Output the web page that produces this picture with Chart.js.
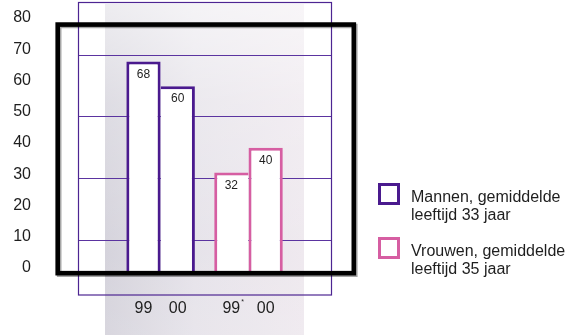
<!DOCTYPE html>
<html>
<head>
<meta charset="utf-8">
<script src="https://cdn.jsdelivr.net/npm/chart.js@4.4.1/dist/chart.umd.min.js"></script>
<style>
  html, body { margin: 0; padding: 0; background: #ffffff; }
  #chart { display: block; }
</style>
</head>
<body>
<canvas id="chart" width="567" height="335"></canvas>
<script>
// Groups (one per gender) and the two survey years shown side by side in each group
const groups = ['Mannen', 'Vrouwen'];
const years = ['99', '00'];
const values99 = [68, 32];
const values00 = [60, 40];
// Year labels printed under each bar, per group
const barYearLabels = [['99', '00'], ['99*', '00']];
// Left axis labels and horizontal guide lines
const yTickValues = [0, 10, 20, 30, 40, 50, 60, 70, 80];
const gridValues = [10, 30, 50, 70];
// Legend entries, one per gender
const legendLines = [
  ['Mannen, gemiddelde', 'leeftijd 33 jaar'],
  ['Vrouwen, gemiddelde', 'leeftijd 35 jaar']
];

const genderColors = ['#4a1a8e', '#d65ea2'];
const FONT = '"Liberation Sans", Arial, Helvetica, sans-serif';
const BORDER = 3;

// The taller bar of each pair owns the shared edge, so it is drawn only once
function widths99(ctx) {
  const i = ctx.dataIndex;
  return { top: BORDER, left: BORDER, right: values99[i] >= values00[i] ? BORDER : 0, bottom: 0 };
}
function widths00(ctx) {
  const i = ctx.dataIndex;
  return { top: BORDER, right: BORDER, left: values00[i] > values99[i] ? BORDER : 0, bottom: 0 };
}

const decor = {
  id: 'decor',
  beforeDraw(chart) {
    const { ctx, chartArea: a, height } = chart;
    const x0 = a.left + 27, x1 = a.right - 28, y0 = a.top + 1, y1 = height;
    ctx.save();
    const h = ctx.createLinearGradient(x0, 0, x1, 0);
    h.addColorStop(0, '#d3d1da');
    h.addColorStop(0.45, '#e5e2e9');
    h.addColorStop(1, '#eee8ee');
    ctx.fillStyle = h;
    ctx.fillRect(x0, y0, x1 - x0, y1 - y0);
    const v = ctx.createLinearGradient(0, y0, 0, y1);
    v.addColorStop(0, 'rgba(255,255,255,0.6)');
    v.addColorStop(0.3, 'rgba(255,255,255,0.25)');
    v.addColorStop(0.75, 'rgba(255,255,255,0.05)');
    v.addColorStop(1, 'rgba(255,255,255,0.12)');
    ctx.fillStyle = v;
    ctx.fillRect(x0, y0, x1 - x0, y1 - y0);
    ctx.restore();
  },
  beforeDatasetsDraw(chart) {
    const { ctx, chartArea: a } = chart;
    ctx.save();
    ctx.strokeStyle = '#4d2592';
    ctx.lineWidth = 1.2;
    ctx.strokeRect(a.left + 0.5, a.top - 0.5, a.right - a.left - 1, a.bottom - a.top + 0.5);
    ctx.restore();
  },
  afterDatasetsDraw(chart) {
    const { ctx, chartArea: a } = chart;
    const yScale = chart.scales.y;
    ctx.save();
    // values inside the bars and year labels below them
    [values99, values00].forEach((vals, d) => {
      const meta = chart.getDatasetMeta(d);
      meta.data.forEach((bar, i) => {
        ctx.fillStyle = '#1e1e1e';
        ctx.textAlign = 'center';
        ctx.textBaseline = 'middle';
        ctx.font = '12px ' + FONT;
        ctx.fillText(String(vals[i]), bar.x, bar.y + 13);
        let label = barYearLabels[i][d];
        const star = label.endsWith('*');
        if (star) label = label.slice(0, -1);
        ctx.font = '16px ' + FONT;
        ctx.fillText(label, bar.x, 309);
        if (star) {
          const w = ctx.measureText(label).width;
          ctx.font = '7px ' + FONT;
          ctx.textAlign = 'left';
          ctx.fillText('*', bar.x + w / 2 + 1, 302);
        }
      });
    });

    // heavy black outline spanning the 0-80 range
    const top = yScale.getPixelForValue(80);
    const bottom = yScale.getPixelForValue(0) + 2.2;
    const left = a.left - 20.3, right = a.right + 21.8;
    ctx.shadowColor = 'rgba(0,0,0,0.35)';
    ctx.shadowOffsetX = 1.5;
    ctx.shadowOffsetY = 1.5;
    ctx.shadowBlur = 0.5;
    ctx.strokeStyle = '#000000';
    ctx.lineWidth = 4.6;
    ctx.strokeRect(left, top, right - left, bottom - top);
    ctx.shadowColor = 'transparent';

    // legend
    const lx = a.right + 46;
    legendLines.forEach((lines, k) => {
      const by = 183 + k * 54;
      ctx.strokeStyle = genderColors[k];
      ctx.lineWidth = 3;
      ctx.strokeRect(lx + 1.5, by + 1.5, 19, 19);
      ctx.fillStyle = '#1e1e1e';
      ctx.font = '16px ' + FONT;
      ctx.textAlign = 'left';
      ctx.textBaseline = 'middle';
      lines.forEach((t, j) => ctx.fillText(t, lx + 33, by + 15 + j * 18));
    });
    ctx.restore();
  }
};

new Chart(document.getElementById('chart'), {
  type: 'bar',
  data: {
    datasets: [
      {
        label: years[0],
        data: values99.map((v, i) => ({ x: i, y: v })),
        backgroundColor: '#ffffff',
        borderColor: genderColors,
        borderWidth: widths99
      },
      {
        label: years[1],
        data: values00.map((v, i) => ({ x: i, y: v })),
        backgroundColor: '#ffffff',
        borderColor: genderColors,
        borderWidth: widths00
      }
    ]
  },
  options: {
    responsive: false,
    devicePixelRatio: 1,
    animation: false,
    layout: { padding: { top: 3, bottom: 40, right: 235, left: 0 } },
    datasets: {
      bar: {
        categoryPercentage: 0.78,
        barPercentage: 1,
        inflateAmount: 0,
        borderSkipped: 'start'
      }
    },
    plugins: {
      legend: { display: false },
      tooltip: { enabled: false }
    },
    scales: {
      x: {
        type: 'linear',
        display: false,
        offset: false,
        min: -0.94,
        max: 1.95,
        afterBuildTicks: (s) => { s.ticks = groups.map((g, i) => ({ value: i })); }
      },
      y: {
        position: 'left',
        min: -7.8,
        max: 87,
        afterBuildTicks: (s) => { s.ticks = gridValues.map((v) => ({ value: v })); },
        ticks: { display: false },
        grid: { color: '#5b34a0', lineWidth: 1, drawTicks: false },
        border: { display: false },
        afterFit: (s) => { s.width = 0; s.paddingTop = 0; s.paddingBottom = 0; }
      },
      yLabels: {
        position: 'left',
        min: -8.64,
        max: 84.8,
        afterBuildTicks: (s) => { s.ticks = yTickValues.map((v) => ({ value: v })); },
        grid: { display: false, drawTicks: false },
        border: { display: false },
        ticks: {
          autoSkip: false,
          padding: 47,
          color: '#1e1e1e',
          font: { family: FONT, size: 16 }
        },
        afterFit: (s) => { s.width = 78; s.paddingTop = 0; s.paddingBottom = 0; }
      }
    }
  },
  plugins: [decor]
});
</script>
</body>
</html>
